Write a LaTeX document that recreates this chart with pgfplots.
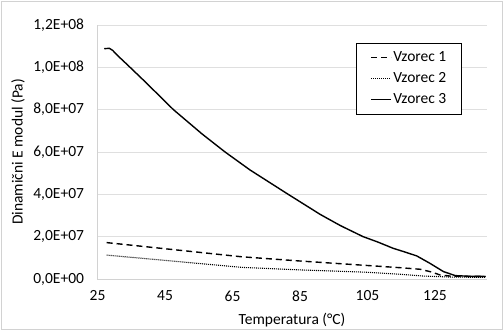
\documentclass[border=0pt]{standalone}
\usepackage{pgfplots}
\pgfplotsset{compat=1.18}
\usepackage{fontspec}
\setmainfont{Carlito}
\begin{document}
\begin{tikzpicture}
\useasboundingbox (-97.5pt,-51pt) rectangle (405.5pt,279pt);
\draw[gray!35,line width=0.8pt] (-96.5pt,-50pt) rectangle (404.5pt,278pt);
\begin{axis}[
  at={(0,0)}, anchor=south west,
  scale only axis, width=389.5pt, height=254pt,
  xmin=25, xmax=140.4, ymin=0, ymax=1.2e8,
  xtick={25,45,65,85,105,125},
  ytick={0,2e7,4e7,6e7,8e7,1e8,1.2e8},
  yticklabels={{0,0E+00},{2,0E+07},{4,0E+07},{6,0E+07},{8,0E+07},{1,0E+08},{1,2E+08}},
  scaled y ticks=false,
  /pgf/number format/assume math mode=true,
  ymajorgrids, grid style={gray!25, line width=0.6pt},
  axis line style={gray!35, line width=0.6pt},
  axis x line*=bottom, axis y line*=left,
  major tick length=0pt,
  tick label style={font=\fontsize{15.5}{18}\selectfont, black},
  yticklabel style={xshift=-10pt},
  xticklabel style={yshift=-8pt},
  xlabel={Temperatura (°C)},
  ylabel={Dinamični E modul (Pa)},
  label style={font=\fontsize{15.5}{18}\selectfont},
  xlabel style={at={(rel axis cs:0.4994,-0.161)}, anchor=center},
  ylabel style={at={(rel axis cs:-0.204,0.5)}, anchor=center},
  legend style={at={(rel axis cs:0.664,0.929)}, anchor=north west, draw=black, line width=0.6pt,
    font=\fontsize{15.5}{18}\selectfont, inner xsep=14pt, inner ysep=7pt, row sep=6.5pt,
    nodes={inner sep=1.5pt}},
  legend cell align=left,
  legend image code/.code={\draw[#1] (0pt,0pt) -- (20pt,0pt);},
]
\addplot[black, line width=1.4pt, dash pattern=on 6pt off 4pt] coordinates {
(27.7,1.72e7) (45,1.43e7) (67.7,1.05e7) (85,0.85e7) (104.8,0.64e7) (115,0.53e7)
(120.6,0.46e7) (124,0.33e7) (126.5,0.19e7) (130,0.13e7) (140,0.12e7)};
\addlegendentry{Vzorec 1\hspace{7pt}}
\addplot[black, line width=1.1pt, dash pattern=on 1pt off 1pt] coordinates {
(27.7,1.13e7) (45,0.88e7) (67.7,0.55e7) (85,0.43e7) (104.8,0.32e7) (115,0.22e7)
(121.5,0.14e7) (130,0.09e7) (140,0.08e7)};
\addlegendentry{Vzorec 2\hspace{7pt}}
\addplot[black, line width=1.4pt] coordinates {
(27,1.088e8) (28.5,1.09e8) (29.5,1.08e8) (31,1.055e8) (34,1.01e8) (39.1,0.932e8)
(47.5,0.80e8) (56,0.685e8) (62.8,0.60e8) (70.2,0.515e8) (81.5,0.40e8) (91,0.305e8)
(97,0.252e8) (103.7,0.20e8) (108,0.175e8) (112.6,0.145e8) (116,0.128e8)
(119.6,0.109e8) (123.5,0.074e8) (127.5,0.035e8) (131,0.016e8) (135,0.013e8) (140,0.012e8)};
\addlegendentry{Vzorec 3\hspace{7pt}}
\end{axis}
\end{tikzpicture}
\end{document}
